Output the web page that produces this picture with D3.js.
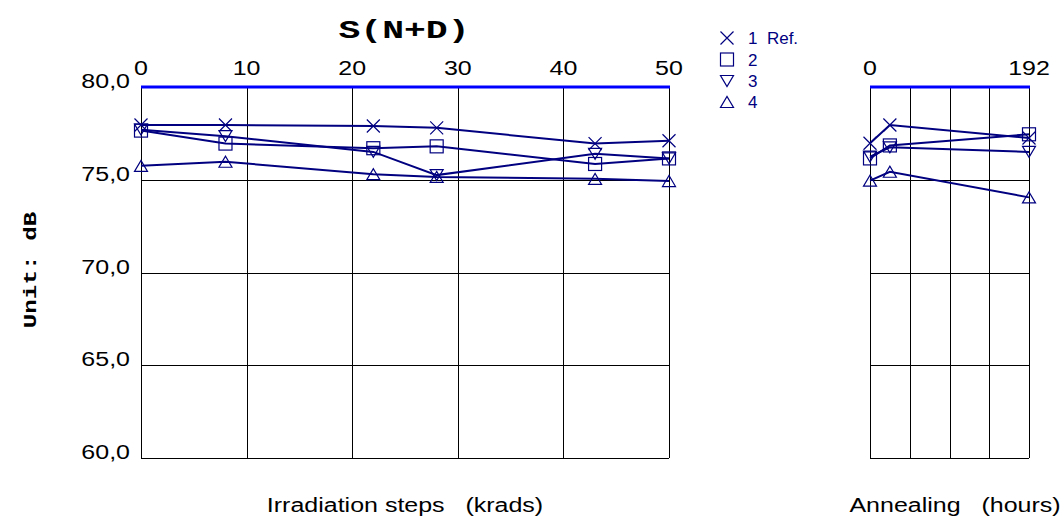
<!DOCTYPE html>
<html>
<head>
<meta charset="utf-8">
<script src="https://cdn.jsdelivr.net/npm/d3@7/dist/d3.min.js"></script>
<style>
  html, body { margin: 0; padding: 0; background: #fff; }
  svg { display: block; }
  text { white-space: pre; }
</style>
</head>
<body>
<svg id="chart" width="1062" height="530"></svg>
<script>
// ---- data ----
const irradiationSteps = [0, 8, 22, 28, 43, 50];          // krads
const annealingHours   = [0, 24, 192];                     // hours
const seriesNames = ["1  Ref.", "2", "3", "4"];
const s1Irr = [77.95, 77.95, 77.9, 77.8, 76.95, 77.1];
const s2Irr = [77.65, 76.95, 76.7, 76.8, 75.85, 76.15];
const s3Irr = [77.7, 77.35, 76.5, 75.25, 76.4, 76.15];
const s4Irr = [75.75, 75.97, 75.3, 75.15, 75.05, 74.93];
const s1Ann = [76.97, 77.95, 77.25];
const s2Ann = [76.15, 76.85, 77.45];
const s3Ann = [76.25, 76.75, 76.5];
const s4Ann = [74.95, 75.43, 74.05];
const yTicks = [60, 65, 70, 75, 80];
const yTickLabels = ["60,0", "65,0", "70,0", "75,0", "80,0"];
const irrTicks = [0, 10, 20, 30, 40, 50];
const annGridTicks = [0, 48, 96, 144, 192];
const annLabelTicks = [0, 192];

// ---- layout ----
const svg = d3.select("#chart");
const navy = "#000080";
const y = d3.scaleLinear().domain([60, 80]).range([458, 87]);
const xL = d3.scaleLinear().domain([0, 50]).range([141, 669]);
const xR = d3.scaleLinear().domain([0, 192]).range([870, 1029]);
const SX = 1.25;

function txt(x, yy, s, opts = {}) {
  return svg.append("text")
    .attr("transform", `translate(${x},${yy}) rotate(${opts.rot || 0}) scale(${opts.sx || SX},1)`)
    .attr("text-anchor", opts.anchor || "middle")
    .attr("font-family", opts.family || "'Liberation Sans', Arial, sans-serif")
    .attr("font-size", opts.size || 20)
    .attr("font-weight", opts.weight || "normal")
    .attr("fill", opts.fill || "#000")
    .text(s);
}

function panel(x, gridTicks, labelTicks) {
  const g = svg.append("g");
  const [x0, x1] = x.range();
  g.selectAll("line.v").data(gridTicks).join("line")
    .attr("x1", d => Math.round(x(d)) + 0.5).attr("x2", d => Math.round(x(d)) + 0.5)
    .attr("y1", y(80)).attr("y2", y(60))
    .attr("stroke", "#000").attr("stroke-width", 1);
  g.selectAll("line.h").data(yTicks.filter(d => d < 80)).join("line")
    .attr("x1", x0).attr("x2", x1)
    .attr("y1", d => Math.round(y(d)) + 0.5).attr("y2", d => Math.round(y(d)) + 0.5)
    .attr("stroke", "#000").attr("stroke-width", 1);
  g.append("line").attr("x1", x0).attr("x2", x1 + 1)
    .attr("y1", y(80)).attr("y2", y(80))
    .attr("stroke", "#0000ff").attr("stroke-width", 3);
  labelTicks.forEach(d => txt(x(d), 75, String(d)));
}

panel(xL, irrTicks, irrTicks);
panel(xR, annGridTicks, annLabelTicks);

yTicks.forEach((d, i) => txt(130, y(d) + 1, yTickLabels[i], { anchor: "end" }));

txt(404, 38, "S(N+D)", { family: "'Liberation Mono', 'Courier New', monospace", weight: "bold", size: 26, sx: 1.4 });
txt(36, 270, "Unit: dB", { family: "'Liberation Mono', 'Courier New', monospace", weight: "bold", size: 18, sx: 1.35, rot: -90 });
txt(405, 512, "Irradiation steps   (krads)");
txt(955, 512, "Annealing   (hours)");

function marker(g, type, cx, cy) {
  const s = 6.5;
  if (type === 0) {
    g.append("path").attr("d", `M${cx - s},${cy - s}L${cx + s},${cy + s}M${cx - s},${cy + s}L${cx + s},${cy - s}`);
  } else if (type === 1) {
    g.append("rect").attr("x", cx - s).attr("y", cy - s).attr("width", 2 * s).attr("height", 2 * s);
  } else if (type === 2) {
    g.append("path").attr("d", `M${cx - s},${cy - 5.5}L${cx + s},${cy - 5.5}L${cx},${cy + 5.5}Z`);
  } else {
    g.append("path").attr("d", `M${cx - s},${cy + 5.5}L${cx + s},${cy + 5.5}L${cx},${cy - 5.5}Z`);
  }
}

const irrSeries = [s1Irr, s2Irr, s3Irr, s4Irr];
const annSeries = [s1Ann, s2Ann, s3Ann, s4Ann];
const lineGen = (x, xs) => d3.line().x((d, i) => x(xs[i])).y(d => y(d));

const mg = svg.append("g").attr("fill", "none").attr("stroke", navy).attr("stroke-width", 1.2);
irrSeries.forEach((vals, k) => vals.forEach((v, i) => marker(mg, k, xL(irradiationSteps[i]), y(v))));
annSeries.forEach((vals, k) => vals.forEach((v, i) => marker(mg, k, xR(annealingHours[i]), y(v))));

const lg = svg.append("g").attr("fill", "none").attr("stroke", navy).attr("stroke-width", 2);
irrSeries.forEach(vals => lg.append("path").attr("d", lineGen(xL, irradiationSteps)(vals)));
annSeries.forEach(vals => lg.append("path").attr("d", lineGen(xR, annealingHours)(vals)));

const legY = [38, 59.5, 81, 102];
const leg = svg.append("g").attr("fill", "none").attr("stroke", navy).attr("stroke-width", 1.2);
seriesNames.forEach((n, k) => {
  marker(leg, k, 727, legY[k]);
  txt(748, legY[k] + 6, n, { anchor: "start", size: 17, sx: 1, fill: navy });
});
</script>
</body>
</html>
